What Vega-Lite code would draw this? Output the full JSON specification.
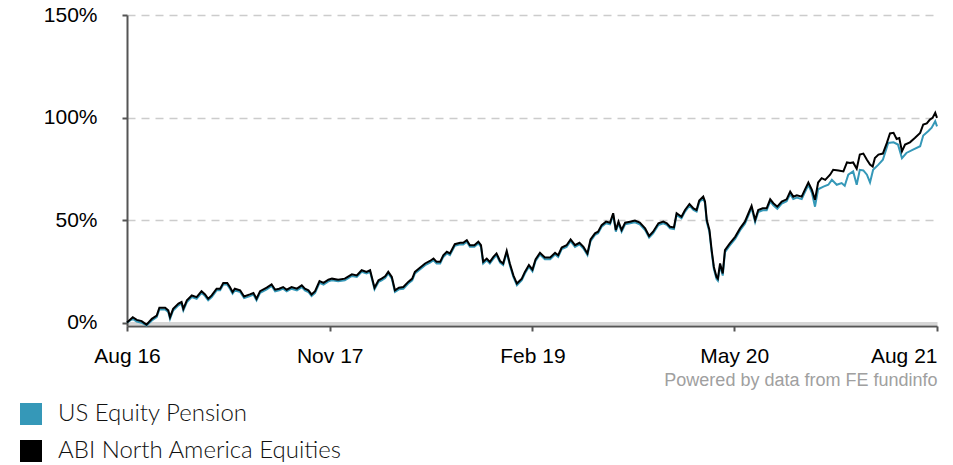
{
  "$schema": "https://vega.github.io/schema/vega-lite/v6.json",
  "width": 810,
  "height": 311,
  "autosize": {"type": "none"},
  "padding": {"left": 127, "top": 15, "right": 16, "bottom": 139},
  "background": "white",
  "config": {"view": {"stroke": null}, "font": "Liberation Sans"},
  "datasets": {
    "pension": [
      {"date":"2016-08-01","value":0},{"date":"2016-08-14","value":1.8},{"date":"2016-08-23","value":0.5},{"date":"2016-09-03","value":-0.1},{"date":"2016-09-14","value":-1.5},{"date":"2016-09-26","value":1.0},{"date":"2016-10-07","value":2.6},{"date":"2016-10-13","value":6.4},{"date":"2016-10-26","value":6.4},{"date":"2016-11-02","value":5.1},{"date":"2016-11-06","value":1.8},{"date":"2016-11-13","value":5.9},{"date":"2016-11-25","value":8.4},{"date":"2016-12-02","value":9.2},{"date":"2016-12-06","value":5.9},{"date":"2016-12-14","value":10.0},{"date":"2016-12-25","value":12.4},
      {"date":"2017-01-05","value":11.6},{"date":"2017-01-16","value":14.5},{"date":"2017-01-24","value":12.9},{"date":"2017-01-31","value":10.8},{"date":"2017-02-08","value":12.4},{"date":"2017-02-19","value":15.7},{"date":"2017-02-27","value":15.7},{"date":"2017-03-06","value":18.5},{"date":"2017-03-15","value":18.5},{"date":"2017-03-21","value":16.5},{"date":"2017-03-27","value":14.1},{"date":"2017-04-01","value":15.7},{"date":"2017-04-13","value":14.9},{"date":"2017-04-22","value":11.9},{"date":"2017-05-05","value":12.9},{"date":"2017-05-13","value":13.6},{"date":"2017-05-20","value":10.8},{"date":"2017-05-28","value":14.5},{"date":"2017-06-12","value":16.2},{"date":"2017-06-23","value":17.8},{"date":"2017-07-01","value":15.2},{"date":"2017-07-10","value":15.7},{"date":"2017-07-19","value":16.5},{"date":"2017-07-27","value":15.2},{"date":"2017-08-07","value":16.5},{"date":"2017-08-19","value":15.7},{"date":"2017-08-30","value":17.3},{"date":"2017-09-06","value":15.7},{"date":"2017-09-14","value":14.9},{"date":"2017-09-21","value":12.9},{"date":"2017-09-29","value":14.5},{"date":"2017-10-09","value":19.4},{"date":"2017-10-18","value":18.5},{"date":"2017-10-29","value":20.1},{"date":"2017-11-06","value":20.6},{"date":"2017-11-20","value":20.1},{"date":"2017-12-05","value":20.6},{"date":"2017-12-21","value":22.7},
      {"date":"2018-01-01","value":22.2},{"date":"2018-01-12","value":24.7},{"date":"2018-01-23","value":23.9},{"date":"2018-01-31","value":24.7},{"date":"2018-02-10","value":16.2},{"date":"2018-02-19","value":19.8},{"date":"2018-02-26","value":20.6},{"date":"2018-03-06","value":21.7},{"date":"2018-03-13","value":23.9},{"date":"2018-03-21","value":21.4},{"date":"2018-03-28","value":14.9},{"date":"2018-04-06","value":16.2},{"date":"2018-04-16","value":16.5},{"date":"2018-04-27","value":19.0},{"date":"2018-05-06","value":20.6},{"date":"2018-05-12","value":23.9},{"date":"2018-05-24","value":26.0},{"date":"2018-06-04","value":28.0},{"date":"2018-06-15","value":29.2},{"date":"2018-06-23","value":30.4},{"date":"2018-06-30","value":28.8},{"date":"2018-07-08","value":28.8},{"date":"2018-07-15","value":32.0},{"date":"2018-07-23","value":33.7},{"date":"2018-07-30","value":32.9},{"date":"2018-08-10","value":37.4},{"date":"2018-08-22","value":38.1},{"date":"2018-08-29","value":38.1},{"date":"2018-09-06","value":39.4},{"date":"2018-09-13","value":36.9},{"date":"2018-09-23","value":36.9},{"date":"2018-10-02","value":38.6},{"date":"2018-10-08","value":36.9},{"date":"2018-10-13","value":28.8},{"date":"2018-10-21","value":30.4},{"date":"2018-10-28","value":28.8},{"date":"2018-11-05","value":31.2},{"date":"2018-11-12","value":32.9},{"date":"2018-11-20","value":29.2},{"date":"2018-11-27","value":28.0},{"date":"2018-12-05","value":34.1},{"date":"2018-12-12","value":28.0},{"date":"2018-12-20","value":22.2},{"date":"2018-12-28","value":18.2},
      {"date":"2019-01-08","value":20.6},{"date":"2019-01-15","value":23.9},{"date":"2019-01-24","value":27.2},{"date":"2019-02-01","value":25.0},{"date":"2019-02-08","value":30.0},{"date":"2019-02-18","value":33.2},{"date":"2019-03-01","value":30.9},{"date":"2019-03-13","value":30.9},{"date":"2019-03-24","value":33.2},{"date":"2019-03-31","value":32.0},{"date":"2019-04-08","value":35.8},{"date":"2019-04-19","value":36.9},{"date":"2019-04-28","value":39.7},{"date":"2019-05-08","value":36.9},{"date":"2019-05-18","value":38.1},{"date":"2019-05-27","value":36.1},{"date":"2019-06-05","value":32.9},{"date":"2019-06-12","value":39.7},{"date":"2019-06-22","value":42.7},{"date":"2019-06-29","value":43.5},{"date":"2019-07-07","value":46.7},{"date":"2019-07-17","value":48.4},{"date":"2019-07-26","value":47.9},{"date":"2019-08-02","value":52.5},{"date":"2019-08-08","value":44.3},{"date":"2019-08-14","value":48.4},{"date":"2019-08-21","value":44.3},{"date":"2019-08-29","value":47.9},{"date":"2019-09-09","value":48.4},{"date":"2019-09-20","value":48.9},{"date":"2019-10-01","value":47.9},{"date":"2019-10-13","value":45.1},{"date":"2019-10-22","value":41.4},{"date":"2019-10-31","value":43.5},{"date":"2019-11-12","value":47.6},{"date":"2019-11-23","value":48.4},{"date":"2019-12-01","value":47.6},{"date":"2019-12-08","value":45.9},{"date":"2019-12-17","value":45.6},{"date":"2019-12-23","value":52.5},
      {"date":"2020-01-03","value":50.8},{"date":"2020-01-11","value":54.1},{"date":"2020-01-21","value":57.0},{"date":"2020-01-30","value":54.9},{"date":"2020-02-06","value":54.1},{"date":"2020-02-12","value":58.7},{"date":"2020-02-21","value":60.6},{"date":"2020-02-25","value":58.2},{"date":"2020-02-29","value":49.0},{"date":"2020-03-06","value":44.1},{"date":"2020-03-11","value":34.3},{"date":"2020-03-16","value":26.1},{"date":"2020-03-22","value":21.2},{"date":"2020-03-25","value":20.4},{"date":"2020-03-30","value":27.8},{"date":"2020-04-05","value":22.9},{"date":"2020-04-10","value":34.3},{"date":"2020-04-21","value":37.6},{"date":"2020-05-03","value":40.8},{"date":"2020-05-14","value":44.9},{"date":"2020-05-25","value":48.2},{"date":"2020-06-02","value":52.3},{"date":"2020-06-09","value":55.9},{"date":"2020-06-17","value":49.0},{"date":"2020-06-24","value":53.9},{"date":"2020-07-04","value":54.7},{"date":"2020-07-13","value":54.7},{"date":"2020-07-21","value":59.1},{"date":"2020-07-28","value":57.2},{"date":"2020-08-06","value":55.5},{"date":"2020-08-16","value":58.0},{"date":"2020-08-27","value":59.1},{"date":"2020-09-04","value":62.7},{"date":"2020-09-11","value":60.2},{"date":"2020-09-19","value":60.9},{"date":"2020-09-30","value":60.2},{"date":"2020-10-07","value":63.5},{"date":"2020-10-15","value":67.1},{"date":"2020-10-23","value":63.3},{"date":"2020-10-30","value":56.5},{"date":"2020-11-06","value":65.0},{"date":"2020-11-18","value":66.3},{"date":"2020-11-29","value":67.2},{"date":"2020-12-07","value":69.6},{"date":"2020-12-18","value":67.2},{"date":"2020-12-29","value":68.0},
      {"date":"2021-01-05","value":66.7},{"date":"2021-01-13","value":72.1},{"date":"2021-01-24","value":73.7},{"date":"2021-02-01","value":67.2},{"date":"2021-02-08","value":74.5},{"date":"2021-02-16","value":74.2},{"date":"2021-02-24","value":72.1},{"date":"2021-03-03","value":68.3},{"date":"2021-03-10","value":74.5},{"date":"2021-03-22","value":77.0},{"date":"2021-04-01","value":79.4},{"date":"2021-04-13","value":87.6},{"date":"2021-04-25","value":87.9},{"date":"2021-05-05","value":86.8},{"date":"2021-05-14","value":80.2},{"date":"2021-05-24","value":82.7},{"date":"2021-06-08","value":84.3},{"date":"2021-06-24","value":86.0},{"date":"2021-07-01","value":91.2},{"date":"2021-07-12","value":93.3},{"date":"2021-07-20","value":95.0},{"date":"2021-07-28","value":98.2},{"date":"2021-08-01","value":95.7}
    ],
    "abi": [
      {"date":"2016-08-01","value":0},{"date":"2016-08-14","value":2.6},{"date":"2016-08-23","value":1.3},{"date":"2016-09-03","value":0.7},{"date":"2016-09-14","value":-1},{"date":"2016-09-26","value":1.8},{"date":"2016-10-07","value":3.4},{"date":"2016-10-13","value":7.2},{"date":"2016-10-26","value":7.2},{"date":"2016-11-02","value":5.9},{"date":"2016-11-06","value":2.6},{"date":"2016-11-13","value":6.7},{"date":"2016-11-25","value":9.2},{"date":"2016-12-02","value":10},{"date":"2016-12-06","value":6.7},{"date":"2016-12-14","value":10.8},{"date":"2016-12-25","value":13.2},
      {"date":"2017-01-05","value":12.4},{"date":"2017-01-16","value":15.3},{"date":"2017-01-24","value":13.7},{"date":"2017-01-31","value":11.6},{"date":"2017-02-08","value":13.2},{"date":"2017-02-19","value":16.5},{"date":"2017-02-27","value":16.5},{"date":"2017-03-06","value":19.3},{"date":"2017-03-15","value":19.3},{"date":"2017-03-21","value":17.3},{"date":"2017-03-27","value":14.9},{"date":"2017-04-01","value":16.5},{"date":"2017-04-13","value":15.7},{"date":"2017-04-22","value":12.7},{"date":"2017-05-05","value":13.7},{"date":"2017-05-13","value":14.4},{"date":"2017-05-20","value":11.6},{"date":"2017-05-28","value":15.3},{"date":"2017-06-12","value":17},{"date":"2017-06-23","value":18.6},{"date":"2017-07-01","value":16},{"date":"2017-07-10","value":16.5},{"date":"2017-07-19","value":17.3},{"date":"2017-07-27","value":16},{"date":"2017-08-07","value":17.3},{"date":"2017-08-19","value":16.5},{"date":"2017-08-30","value":18.1},{"date":"2017-09-06","value":16.5},{"date":"2017-09-14","value":15.7},{"date":"2017-09-21","value":13.7},{"date":"2017-09-29","value":15.3},{"date":"2017-10-09","value":20.2},{"date":"2017-10-18","value":19.3},{"date":"2017-10-29","value":20.9},{"date":"2017-11-06","value":21.4},{"date":"2017-11-20","value":20.9},{"date":"2017-12-05","value":21.4},{"date":"2017-12-21","value":23.5},
      {"date":"2018-01-01","value":23},{"date":"2018-01-12","value":25.5},{"date":"2018-01-23","value":24.7},{"date":"2018-01-31","value":25.5},{"date":"2018-02-10","value":17},{"date":"2018-02-19","value":20.6},{"date":"2018-02-26","value":21.4},{"date":"2018-03-06","value":22.5},{"date":"2018-03-13","value":24.7},{"date":"2018-03-21","value":22.2},{"date":"2018-03-28","value":15.7},{"date":"2018-04-06","value":17},{"date":"2018-04-16","value":17.3},{"date":"2018-04-27","value":19.8},{"date":"2018-05-06","value":21.4},{"date":"2018-05-12","value":24.7},{"date":"2018-05-24","value":26.8},{"date":"2018-06-04","value":28.8},{"date":"2018-06-15","value":30},{"date":"2018-06-23","value":31.2},{"date":"2018-06-30","value":29.6},{"date":"2018-07-08","value":29.6},{"date":"2018-07-15","value":32.8},{"date":"2018-07-23","value":34.5},{"date":"2018-07-30","value":33.7},{"date":"2018-08-10","value":38.2},{"date":"2018-08-22","value":38.9},{"date":"2018-08-29","value":38.9},{"date":"2018-09-06","value":40.2},{"date":"2018-09-13","value":37.7},{"date":"2018-09-23","value":37.7},{"date":"2018-10-02","value":39.4},{"date":"2018-10-08","value":37.7},{"date":"2018-10-13","value":29.6},{"date":"2018-10-21","value":31.2},{"date":"2018-10-28","value":29.6},{"date":"2018-11-05","value":32},{"date":"2018-11-12","value":33.7},{"date":"2018-11-20","value":30},{"date":"2018-11-27","value":28.8},{"date":"2018-12-05","value":34.9},{"date":"2018-12-12","value":28.8},{"date":"2018-12-20","value":23},{"date":"2018-12-28","value":19},
      {"date":"2019-01-08","value":21.4},{"date":"2019-01-15","value":24.7},{"date":"2019-01-24","value":28},{"date":"2019-02-01","value":25.8},{"date":"2019-02-08","value":30.8},{"date":"2019-02-18","value":34},{"date":"2019-03-01","value":31.7},{"date":"2019-03-13","value":31.7},{"date":"2019-03-24","value":34},{"date":"2019-03-31","value":32.8},{"date":"2019-04-08","value":36.6},{"date":"2019-04-19","value":37.7},{"date":"2019-04-28","value":40.5},{"date":"2019-05-08","value":37.7},{"date":"2019-05-18","value":38.9},{"date":"2019-05-27","value":36.9},{"date":"2019-06-05","value":33.7},{"date":"2019-06-12","value":40.5},{"date":"2019-06-22","value":43.5},{"date":"2019-06-29","value":44.3},{"date":"2019-07-07","value":47.5},{"date":"2019-07-17","value":49.2},{"date":"2019-07-26","value":48.7},{"date":"2019-08-02","value":53.3},{"date":"2019-08-08","value":45.1},{"date":"2019-08-14","value":49.2},{"date":"2019-08-21","value":45.1},{"date":"2019-08-29","value":48.7},{"date":"2019-09-09","value":49.2},{"date":"2019-09-20","value":49.7},{"date":"2019-10-01","value":48.7},{"date":"2019-10-13","value":45.9},{"date":"2019-10-22","value":42.2},{"date":"2019-10-31","value":44.3},{"date":"2019-11-12","value":48.4},{"date":"2019-11-23","value":49.2},{"date":"2019-12-01","value":48.4},{"date":"2019-12-08","value":46.7},{"date":"2019-12-17","value":46.4},{"date":"2019-12-23","value":53.3},
      {"date":"2020-01-03","value":51.6},{"date":"2020-01-11","value":54.9},{"date":"2020-01-21","value":57.8},{"date":"2020-01-30","value":55.7},{"date":"2020-02-06","value":54.9},{"date":"2020-02-12","value":59.5},{"date":"2020-02-21","value":61.4},{"date":"2020-02-25","value":59},{"date":"2020-02-29","value":50},{"date":"2020-03-06","value":45.1},{"date":"2020-03-11","value":35.3},{"date":"2020-03-16","value":27.1},{"date":"2020-03-22","value":22.2},{"date":"2020-03-25","value":21.4},{"date":"2020-03-30","value":28.8},{"date":"2020-04-05","value":23.9},{"date":"2020-04-10","value":35.3},{"date":"2020-04-21","value":38.6},{"date":"2020-05-03","value":41.8},{"date":"2020-05-14","value":45.9},{"date":"2020-05-25","value":49.2},{"date":"2020-06-02","value":53.3},{"date":"2020-06-09","value":56.9},{"date":"2020-06-17","value":50},{"date":"2020-06-24","value":54.9},{"date":"2020-07-04","value":55.7},{"date":"2020-07-13","value":55.7},{"date":"2020-07-21","value":60.1},{"date":"2020-07-28","value":58.2},{"date":"2020-08-06","value":56.5},{"date":"2020-08-16","value":59},{"date":"2020-08-27","value":60.1},{"date":"2020-09-04","value":63.9},{"date":"2020-09-11","value":61.4},{"date":"2020-09-19","value":62.1},{"date":"2020-09-30","value":61.4},{"date":"2020-10-07","value":64.7},{"date":"2020-10-15","value":68.3},{"date":"2020-10-23","value":64.7},{"date":"2020-10-30","value":59.8},{"date":"2020-11-06","value":68.3},{"date":"2020-11-14","value":70.4},{"date":"2020-11-22","value":69.6},{"date":"2020-12-03","value":72.1},{"date":"2020-12-10","value":74.5},{"date":"2020-12-22","value":74.2},
      {"date":"2021-01-02","value":73.7},{"date":"2021-01-10","value":78.1},{"date":"2021-01-17","value":77.8},{"date":"2021-01-24","value":78.1},{"date":"2021-02-01","value":75},{"date":"2021-02-08","value":81.9},{"date":"2021-02-16","value":82.4},{"date":"2021-02-24","value":79.4},{"date":"2021-03-03","value":77},{"date":"2021-03-09","value":76.1},{"date":"2021-03-14","value":80.2},{"date":"2021-03-22","value":81.9},{"date":"2021-04-01","value":82.4},{"date":"2021-04-10","value":87.6},{"date":"2021-04-17","value":92.2},{"date":"2021-04-25","value":92.5},{"date":"2021-05-02","value":89.5},{"date":"2021-05-08","value":90},{"date":"2021-05-14","value":83.5},{"date":"2021-05-21","value":86.8},{"date":"2021-06-01","value":87.9},{"date":"2021-06-12","value":90},{"date":"2021-06-24","value":92.5},{"date":"2021-07-01","value":96.6},{"date":"2021-07-09","value":97.1},{"date":"2021-07-16","value":99},{"date":"2021-07-22","value":99.8},{"date":"2021-07-28","value":102.3},{"date":"2021-08-01","value":99.8}
    ]
  },
  "encoding": {
    "x": {
      "field": "date",
      "type": "temporal",
      "scale": {"type": "utc", "domain": [{"year": 2016, "month": 8, "date": 1, "utc": true}, {"year": 2021, "month": 8, "date": 1, "utc": true}]},
      "axis": {
        "values": [
          {"year": 2016, "month": 8, "date": 1, "utc": true},
          {"year": 2017, "month": 11, "date": 1, "utc": true},
          {"year": 2019, "month": 2, "date": 1, "utc": true},
          {"year": 2020, "month": 5, "date": 1, "utc": true},
          {"year": 2021, "month": 8, "date": 1, "utc": true}
        ],
        "format": "%b %y",
        "grid": false,
        "domainColor": "#555555",
        "domainWidth": 2,
        "tickColor": "#555555",
        "tickWidth": 2,
        "tickSize": 5,
        "labelFont": "Liberation Sans",
        "labelFontSize": 21,
        "labelColor": "#000000",
        "labelPadding": 14,
        "labelFlush": false,
        "labelOverlap": false,
        "labelAlign": {"condition": {"test": "utcyear(datum.value) === 2021", "value": "right"}, "value": "center"},
        "title": "Powered by data from FE fundinfo",
        "titleAnchor": "end",
        "titleFont": "Liberation Sans",
        "titleFontSize": 18,
        "titleFontWeight": "normal",
        "titleColor": "#a0a0a0",
        "titlePadding": 5
      }
    },
    "y": {
      "field": "value",
      "type": "quantitative",
      "scale": {"domain": [-1.7, 150], "nice": false, "zero": false},
      "axis": {
        "values": [0, 50, 100, 150],
        "labelExpr": "datum.value + '%'",
        "title": null,
        "grid": true,
        "gridColor": {"condition": {"test": "datum.value === 0", "value": "#d6d6d6"}, "value": "#cccccc"},
        "gridDash": {"condition": {"test": "datum.value === 0", "value": []}, "value": [8, 6]},
        "gridWidth": {"condition": {"test": "datum.value === 0", "value": 3}, "value": 1.5},
        "domainColor": "#555555",
        "domainWidth": 2,
        "tickColor": "#555555",
        "tickWidth": 2,
        "tickSize": 5,
        "labelFont": "Liberation Sans",
        "labelFontSize": 21,
        "labelColor": "#000000",
        "labelPadding": 25
      }
    }
  },
  "layer": [
    {
      "data": {"name": "pension"},
      "mark": {"type": "line", "strokeWidth": 2, "interpolate": "linear"},
      "encoding": {
        "color": {
          "datum": "US Equity Pension",
          "type": "nominal",
          "scale": {"domain": ["US Equity Pension", "ABI North America Equities"], "range": ["#3598b8", "#000000"]},
          "legend": {
            "orient": "none",
            "legendX": -108,
            "legendY": 387,
            "title": null,
            "padding": 0,
            "symbolType": "square",
            "symbolSize": 484,
            "symbolStrokeWidth": 0,
            "labelFont": "Lato",
            "labelFontSize": 24,
            "labelFontWeight": 300,
            "labelColor": "#111111",
            "labelOffset": 15,
            "labelLimit": 0,
            "rowPadding": 13,
            "encode": {"symbols": {"update": {"fill": {"scale": "color", "field": "value"}, "fillOpacity": {"value": 1}}}}
          }
        }
      }
    },
    {
      "data": {"name": "abi"},
      "mark": {"type": "line", "strokeWidth": 2, "interpolate": "linear"},
      "encoding": {
        "color": {"datum": "ABI North America Equities", "type": "nominal"}
      }
    }
  ]
}
